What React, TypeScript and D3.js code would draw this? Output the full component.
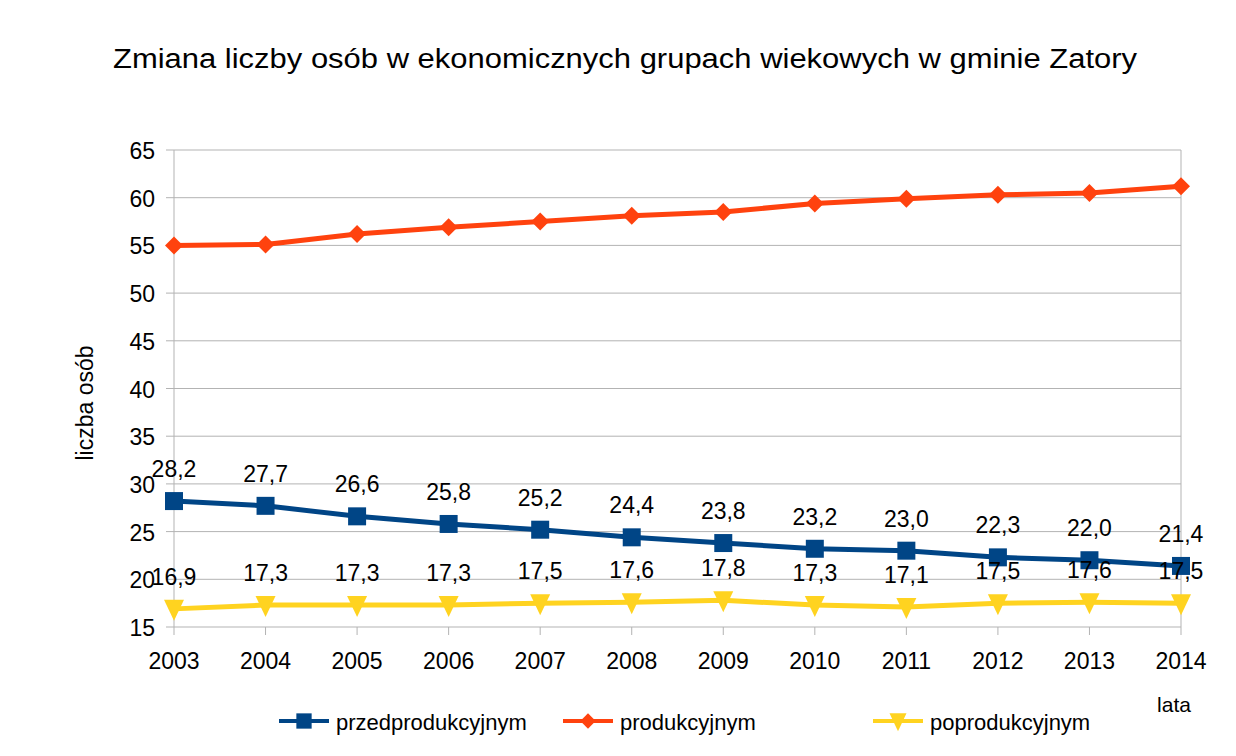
import React, { useRef, useEffect } from 'react';
import * as d3 from 'd3';

const years = ['2003', '2004', '2005', '2006', '2007', '2008', '2009', '2010', '2011', '2012', '2013', '2014'];
const przedprodukcyjnym = [28.2, 27.7, 26.6, 25.8, 25.2, 24.4, 23.8, 23.2, 23.0, 22.3, 22.0, 21.4];
const produkcyjnym = [55.0, 55.1, 56.2, 56.9, 57.5, 58.1, 58.5, 59.4, 59.9, 60.3, 60.5, 61.2];
const poprodukcyjnym = [16.9, 17.3, 17.3, 17.3, 17.5, 17.6, 17.8, 17.3, 17.1, 17.5, 17.6, 17.5];
const yTicks = [15, 20, 25, 30, 35, 40, 45, 50, 55, 60, 65];

const series = [
  { name: 'przedprodukcyjnym', values: przedprodukcyjnym, color: '#004586', marker: 'square', labels: true },
  { name: 'produkcyjnym', values: produkcyjnym, color: '#ff420e', marker: 'diamond', labels: false },
  { name: 'poprodukcyjnym', values: poprodukcyjnym, color: '#ffd320', marker: 'triangle', labels: true },
];

const W = 1236;
const H = 756;
const FONT = '"Liberation Sans", Arial, sans-serif';

const markerPath = (type: string, s = 1) => {
  if (type === 'square') return `M${-9 * s},${-9 * s}H${9 * s}V${9 * s}H${-9 * s}Z`;
  if (type === 'diamond') return `M0,${-9 * s}L${9 * s},0L0,${9 * s}L${-9 * s},0Z`;
  return `M${-10 * s},${-9 * s}H${10 * s}L0,${12 * s}Z`;
};

const App = () => {
  const svgRef = useRef<SVGSVGElement>(null);

  useEffect(() => {
    const svg = d3.select(svgRef.current);
    svg.selectAll('*').remove();

    const x = d3.scalePoint().domain(years).range([174, 1181]);
    const y = d3.scaleLinear().domain([15, 65]).range([627, 150]);

    svg.append('rect').attr('width', W).attr('height', H).attr('fill', '#fff');

    // title
    svg.append('text')
      .attr('x', 113).attr('y', 68)
      .attr('textLength', 1024).attr('lengthAdjust', 'spacingAndGlyphs')
      .style('font-family', FONT).style('font-size', '27px')
      .text('Zmiana liczby osób w ekonomicznych grupach wiekowych w gminie Zatory');

    // grid
    const grid = svg.append('g');
    grid.selectAll('line.h').data(yTicks).join('line')
      .attr('x1', 166).attr('x2', 1181)
      .attr('y1', d => y(d)).attr('y2', d => y(d))
      .attr('stroke', '#b3b3b3').attr('stroke-width', 1);
    grid.append('line')
      .attr('x1', 174).attr('x2', 174).attr('y1', y(65)).attr('y2', y(15))
      .attr('stroke', '#b3b3b3');
    grid.append('line')
      .attr('x1', 1181).attr('x2', 1181).attr('y1', y(65)).attr('y2', y(15))
      .attr('stroke', '#b3b3b3');
    grid.selectAll('line.t').data(years).join('line')
      .attr('x1', d => x(d)!).attr('x2', d => x(d)!)
      .attr('y1', y(15)).attr('y2', y(15) + 8)
      .attr('stroke', '#b3b3b3');

    // y tick labels
    svg.append('g').selectAll('text').data(yTicks).join('text')
      .attr('x', 155).attr('y', d => y(d) + 9)
      .attr('text-anchor', 'end')
      .style('font-family', FONT).style('font-size', '23px')
      .text(d => d);

    // x tick labels
    svg.append('g').selectAll('text').data(years).join('text')
      .attr('x', d => x(d)!).attr('y', 669)
      .attr('text-anchor', 'middle')
      .style('font-family', FONT).style('font-size', '23px')
      .text(d => d);

    // axis titles
    svg.append('text')
      .attr('transform', 'translate(93,403) rotate(-90)')
      .attr('text-anchor', 'middle')
      .style('font-family', FONT).style('font-size', '23px')
      .text('liczba osób');
    svg.append('text')
      .attr('x', 1174).attr('y', 712)
      .attr('text-anchor', 'middle')
      .style('font-family', FONT).style('font-size', '21px')
      .text('lata');

    const line = d3.line<number>().x((_, i) => x(years[i])!).y(d => y(d));

    series.forEach(s => {
      const g = svg.append('g');
      g.append('path')
        .datum(s.values)
        .attr('d', line)
        .attr('fill', 'none')
        .attr('stroke', s.color)
        .attr('stroke-width', 5)
        .attr('stroke-linejoin', 'round');
      g.selectAll('path.m').data(s.values).join('path')
        .attr('transform', (d, i) => `translate(${x(years[i])},${y(d)})`)
        .attr('d', markerPath(s.marker))
        .attr('fill', s.color);
    });

    // value labels
    series.filter(s => s.labels).forEach(s => {
      svg.append('g').selectAll('text').data(s.values).join('text')
        .attr('x', (_, i) => x(years[i])!)
        .attr('y', d => y(d) - 24)
        .attr('text-anchor', 'middle')
        .style('font-family', FONT).style('font-size', '23px')
        .text(d => d.toFixed(1).replace('.', ','));
    });

    // legend
    const legendX = [279, 563, 873];
    series.forEach((s, i) => {
      const g = svg.append('g').attr('transform', `translate(${legendX[i]},721)`);
      g.append('line').attr('x1', 0).attr('x2', 50).attr('y1', 0).attr('y2', 0)
        .attr('stroke', s.color).attr('stroke-width', 4);
      g.append('path').attr('transform', 'translate(25,0)')
        .attr('d', markerPath(s.marker, 0.85)).attr('fill', s.color);
      g.append('text').attr('x', 57).attr('y', 9)
        .style('font-family', FONT).style('font-size', '22px')
        .text(s.name);
    });
  }, []);

  return (
    <div style={{ position: 'absolute', left: 0, top: 0 }}>
      <svg ref={svgRef} width={W} height={H} />
    </div>
  );
};

export default App;
